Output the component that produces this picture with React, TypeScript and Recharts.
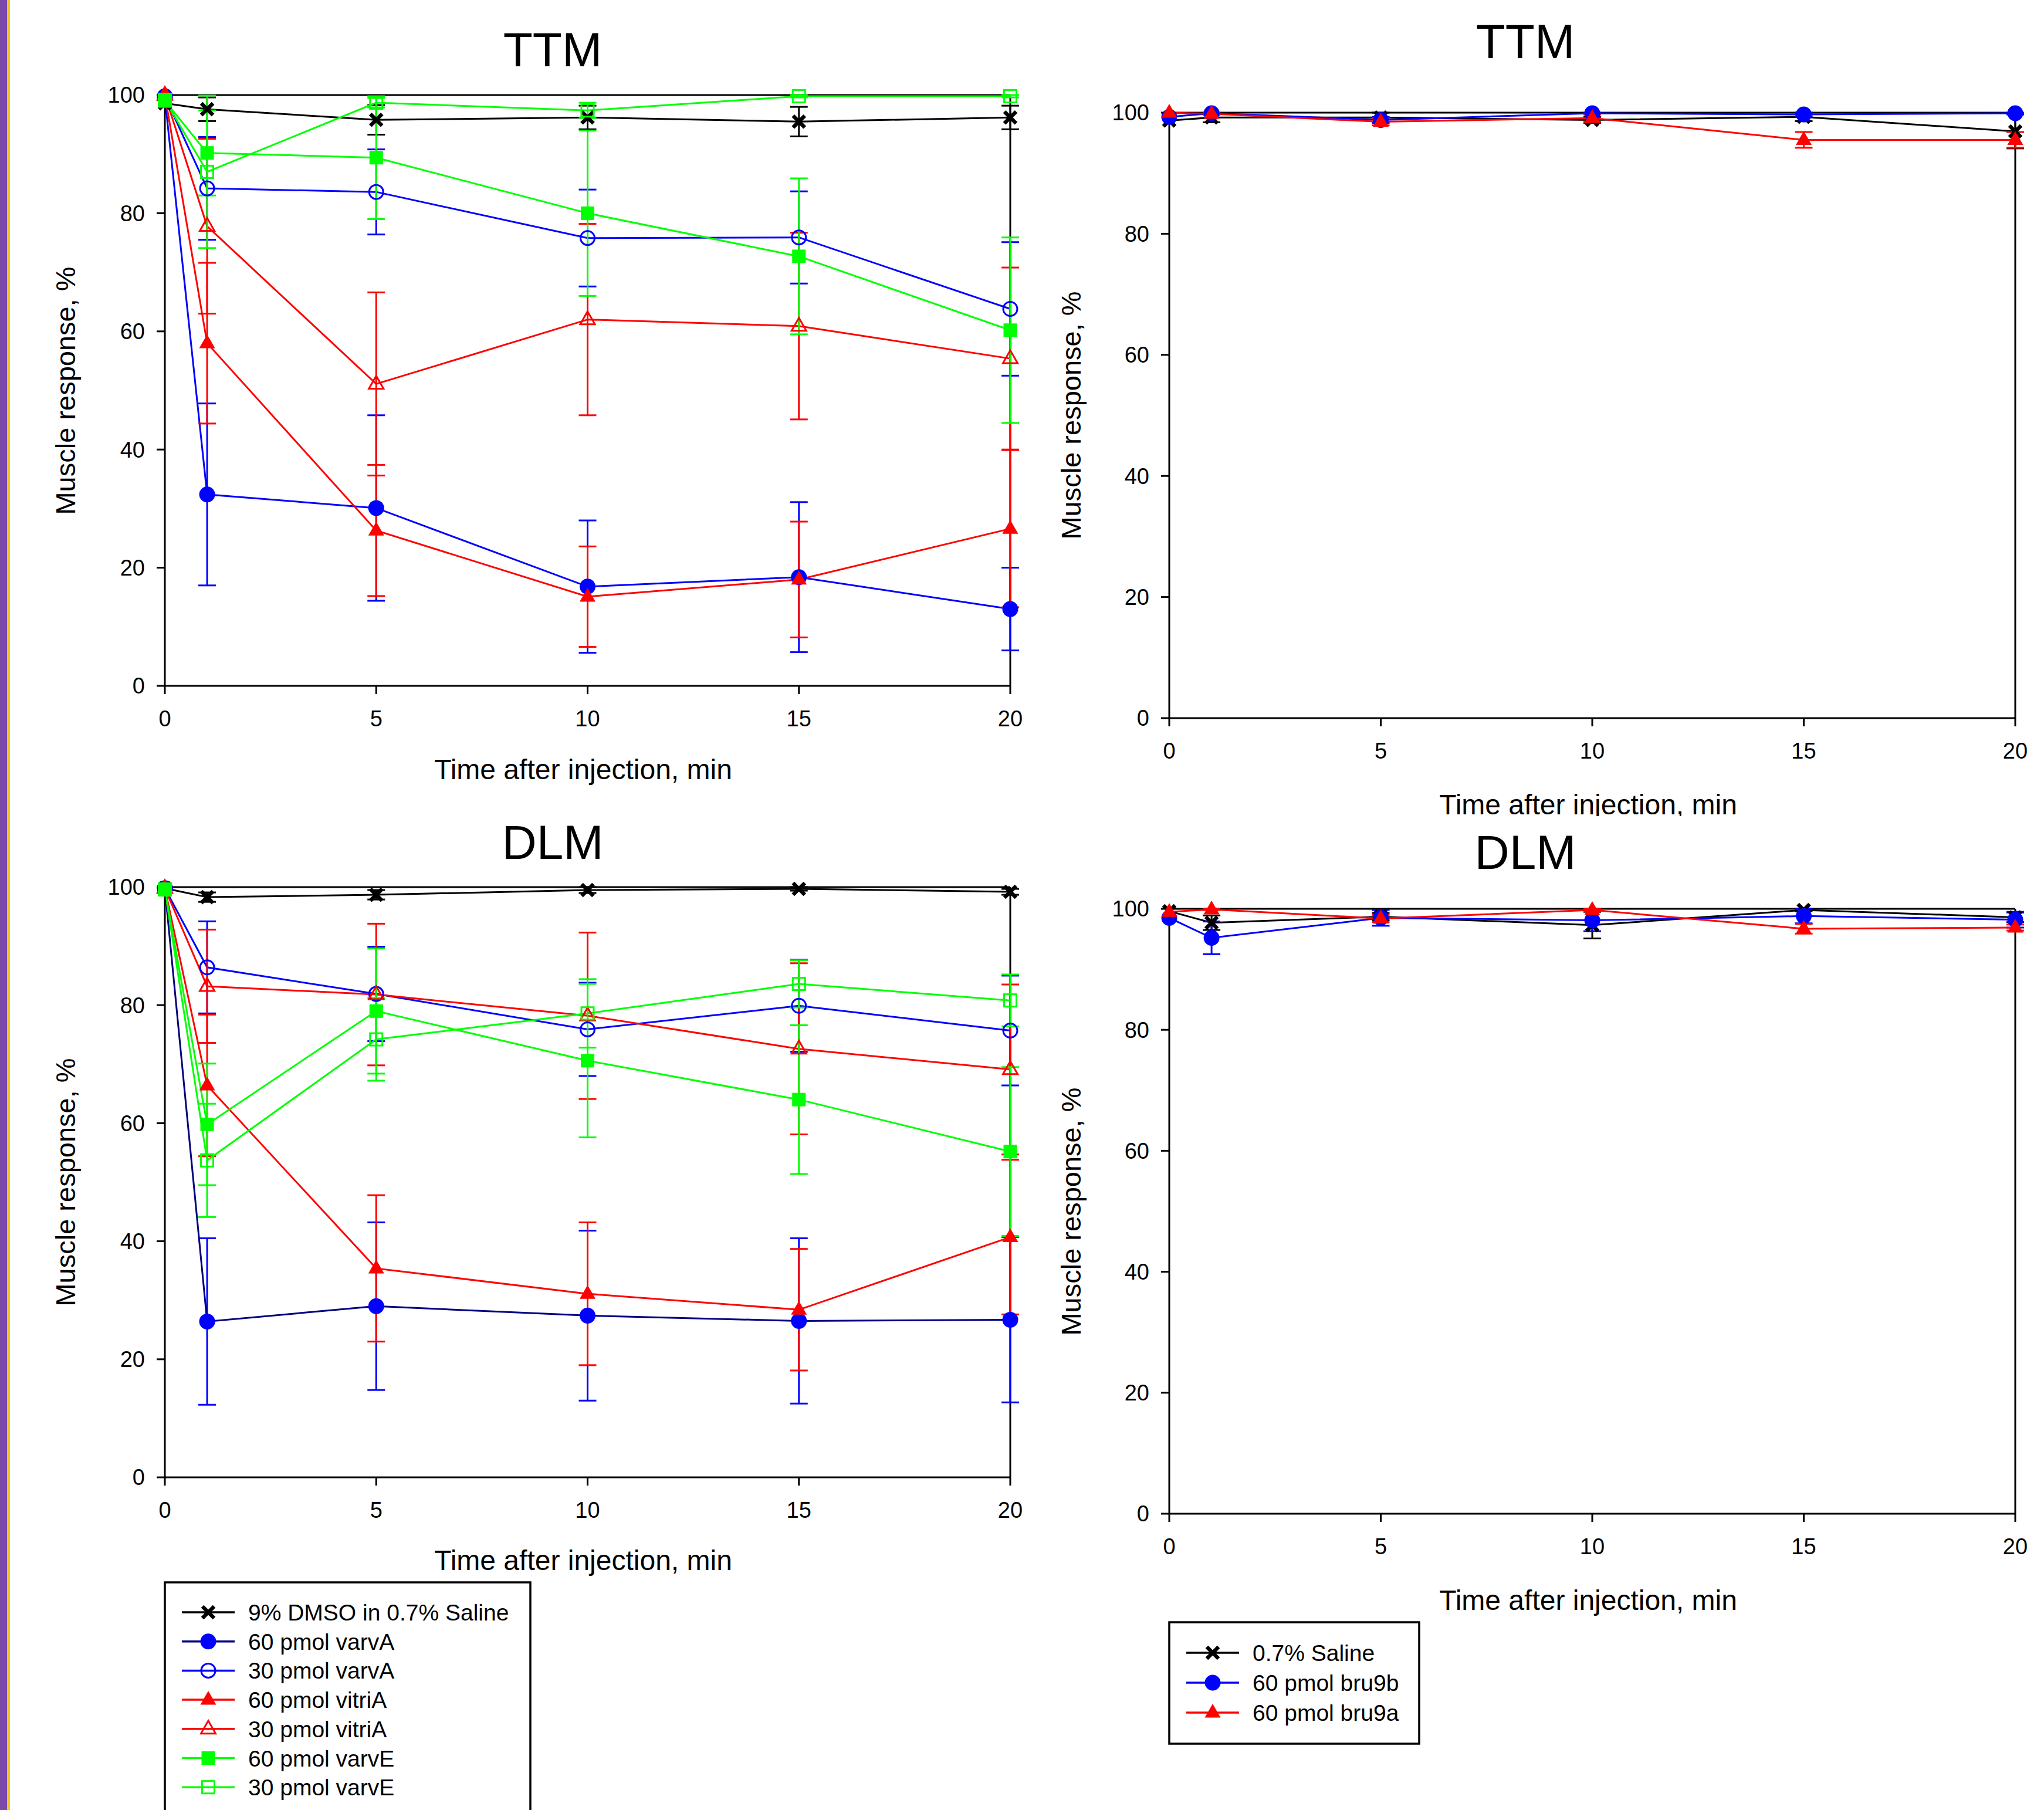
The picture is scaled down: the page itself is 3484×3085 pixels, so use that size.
import React from "react";
import { ErrorBar, Line, LineChart, ReferenceLine, XAxis, YAxis } from "recharts";

const FONT = "Arial, 'Liberation Sans', Helvetica, sans-serif";

const TIMES = [0, 1, 5, 10, 15, 20];
const X_TICKS = [0, 5, 10, 15, 20];
const Y_TICKS = [0, 20, 40, 60, 80, 100];

// TTM, toxins (mean, error)
const ttmDmso = [98.6, 97.6, 95.8, 96.2, 95.5, 96.2];
const ttmDmsoErr = [0, 2, 2.5, 2, 2.5, 2];
const ttmVarvA60 = [99.5, 32.4, 30.1, 16.8, 18.4, 13.0];
const ttmVarvA60Err = [0, 15.4, 15.7, 11.2, 12.7, 7];
const ttmVarvA30 = [99.8, 84.2, 83.6, 75.8, 75.9, 63.8];
const ttmVarvA30Err = [0, 8.7, 7.2, 8.2, 7.8, 11.3];
const ttmVitriA60 = [100, 58.0, 26.3, 15.1, 18.0, 26.6];
const ttmVitriA60Err = [0, 13.6, 11.1, 8.5, 9.8, 13.3];
const ttmVitriA30 = [100, 77.8, 51.1, 62.0, 60.9, 55.4];
const ttmVitriA30Err = [0, 14.8, 15.5, 16.2, 15.8, 15.4];
const ttmVarvE60 = [99.0, 90.2, 89.4, 80.0, 72.7, 60.2];
const ttmVarvE60Err = [0, 7.2, 10.4, 14, 13.2, 15.7];
const ttmVarvE30 = [99.2, 87.0, 98.7, 97.4, 99.8, 99.8];
const ttmVarvE30Err = [0, 12.9, 0.8, 1.3, 0.2, 0.2];

// DLM, toxins
const dlmDmso = [99.8, 98.3, 98.7, 99.5, 99.7, 99.2];
const dlmDmsoErr = [0, 0.8, 0.8, 0.5, 0.3, 0.5];
const dlmVarvA60 = [99.8, 26.4, 29.0, 27.4, 26.5, 26.7];
const dlmVarvA60Err = [0, 14.1, 14.2, 14.4, 14, 14];
const dlmVarvA30 = [99.8, 86.4, 81.9, 75.9, 79.9, 75.7];
const dlmVarvA30Err = [0, 7.8, 8, 7.9, 7.8, 9.3];
const dlmVitriA60 = [99.8, 66.4, 35.4, 31.1, 28.4, 40.7];
const dlmVitriA60Err = [0, 12, 12.4, 12.1, 10.3, 13.1];
const dlmVitriA30 = [99.8, 83.2, 81.8, 78.2, 72.6, 69.1];
const dlmVitriA30Err = [0, 9.6, 12, 14.1, 14.5, 14.4];
const dlmVarvE60 = [99.6, 59.8, 79.0, 70.6, 64.0, 55.2];
const dlmVarvE60Err = [0, 10.3, 10.6, 13, 12.6, 14.3];
const dlmVarvE30 = [99.6, 53.7, 74.2, 78.6, 83.6, 80.8];
const dlmVarvE30Err = [0, 9.6, 7, 5.8, 4, 4.4];

// TTM, bru9
const ttmSaline = [98.7, 99.2, 99.2, 98.8, 99.3, 96.9];
const ttmSalineErr = [0, 0.8, 0.8, 0.5, 0.7, 2.8];
const ttmBru9b = [99.3, 99.9, 98.8, 99.9, 99.7, 99.9];
const ttmBru9bErr = [0, 0.1, 0.5, 0.1, 0.3, 0.1];
const ttmBru9a = [100, 99.8, 98.5, 99.1, 95.5, 95.5];
const ttmBru9aErr = [0, 0.2, 0.6, 0.6, 1.3, 1.3];

// DLM, bru9
const dlmSaline = [99.6, 97.7, 98.7, 97.3, 99.8, 98.6];
const dlmSalineErr = [0, 1.2, 0.6, 2.2, 0.2, 0.8];
const dlmBru9b = [98.5, 95.2, 98.5, 98.1, 98.8, 98.2];
const dlmBru9bErr = [0, 2.7, 1.3, 1.8, 1.2, 1.3];
const dlmBru9a = [99.5, 99.9, 98.4, 99.8, 96.7, 96.9];
const dlmBru9aErr = [0, 0.1, 0.6, 0.2, 0.8, 0.5];

const TOXIN_NAMES = [
  "9% DMSO in 0.7% Saline",
  "60 pmol varvA",
  "30 pmol varvA",
  "60 pmol vitriA",
  "30 pmol vitriA",
  "60 pmol varvE",
  "30 pmol varvE",
];
const BRU_NAMES = ["0.7% Saline", "60 pmol bru9b", "60 pmol bru9a"];

type Kind = "cross" | "dot" | "circle" | "tri" | "triOpen" | "square" | "squareOpen";
type Series = {
  key: string;
  name: string;
  color: string;
  line: string;
  kind: Kind;
  values: number[];
  errors: number[];
};

const TOXIN_STYLE: { color: string; line: string; kind: Kind }[] = [
  { color: "#000000", line: "#000000", kind: "cross" },
  { color: "#0000ff", line: "#0000ff", kind: "dot" },
  { color: "#0000ff", line: "#0000ff", kind: "circle" },
  { color: "#ff0000", line: "#ff0000", kind: "tri" },
  { color: "#ff0000", line: "#ff0000", kind: "triOpen" },
  { color: "#00ff00", line: "#00ff00", kind: "square" },
  { color: "#00ff00", line: "#00ff00", kind: "squareOpen" },
];
const BRU_STYLE: { color: string; line: string; kind: Kind }[] = [
  { color: "#000000", line: "#000000", kind: "cross" },
  { color: "#0000ff", line: "#0000ff", kind: "dot" },
  { color: "#ff0000", line: "#ff0000", kind: "tri" },
];

function build(
  names: string[],
  styles: typeof TOXIN_STYLE,
  vals: number[][],
  errs: number[][],
  navyFirstDot = false,
): Series[] {
  return names.map((name, i) => ({
    key: "s" + i,
    name,
    ...styles[i],
    line: navyFirstDot && i === 1 ? "#000080" : styles[i].line,
    values: vals[i],
    errors: errs[i],
  }));
}

const ttmToxins = build(
  TOXIN_NAMES,
  TOXIN_STYLE,
  [ttmDmso, ttmVarvA60, ttmVarvA30, ttmVitriA60, ttmVitriA30, ttmVarvE60, ttmVarvE30],
  [ttmDmsoErr, ttmVarvA60Err, ttmVarvA30Err, ttmVitriA60Err, ttmVitriA30Err, ttmVarvE60Err, ttmVarvE30Err],
);
const dlmToxins = build(
  TOXIN_NAMES,
  TOXIN_STYLE,
  [dlmDmso, dlmVarvA60, dlmVarvA30, dlmVitriA60, dlmVitriA30, dlmVarvE60, dlmVarvE30],
  [dlmDmsoErr, dlmVarvA60Err, dlmVarvA30Err, dlmVitriA60Err, dlmVitriA30Err, dlmVarvE60Err, dlmVarvE30Err],
  true,
);
const ttmBru = build(BRU_NAMES, BRU_STYLE, [ttmSaline, ttmBru9b, ttmBru9a], [ttmSalineErr, ttmBru9bErr, ttmBru9aErr]);
const dlmBru = build(BRU_NAMES, BRU_STYLE, [dlmSaline, dlmBru9b, dlmBru9a], [dlmSalineErr, dlmBru9bErr, dlmBru9aErr]);

function toRows(series: Series[]) {
  return TIMES.map((t, i) => {
    const row: Record<string, number> = { t };
    series.forEach((s) => {
      row[s.key] = s.values[i];
      row[s.key + "Err"] = s.errors[i];
    });
    return row;
  });
}

function Mark({ kind, cx, cy, color }: { kind: Kind; cx: number; cy: number; color: string }) {
  switch (kind) {
    case "cross":
      return (
        <g stroke={color} strokeWidth={6.5}>
          <line x1={cx - 10} y1={cy - 10} x2={cx + 10} y2={cy + 10} />
          <line x1={cx - 10} y1={cy + 10} x2={cx + 10} y2={cy - 10} />
        </g>
      );
    case "dot":
      return <circle cx={cx} cy={cy} r={13.5} fill={color} />;
    case "circle":
      return <circle cx={cx} cy={cy} r={12} fill="none" stroke={color} strokeWidth={3} />;
    case "tri":
      return <polygon points={`${cx},${cy - 15} ${cx + 13.5},${cy + 8.5} ${cx - 13.5},${cy + 8.5}`} fill={color} />;
    case "triOpen":
      return (
        <polygon
          points={`${cx},${cy - 14} ${cx + 12.5},${cy + 8} ${cx - 12.5},${cy + 8}`}
          fill="none"
          stroke={color}
          strokeWidth={3}
        />
      );
    case "square":
      return <rect x={cx - 11.5} y={cy - 11.5} width={23} height={23} fill={color} />;
    default:
      return <rect x={cx - 10.5} y={cy - 10.5} width={21} height={21} fill="none" stroke={color} strokeWidth={3} />;
  }
}

const ML = 220;
const MT = 60;
const MR = 60;
const MB = 110;

function Panel({ series, x0, x1, y0, y1 }: { series: Series[]; x0: number; x1: number; y0: number; y1: number }) {
  const pw = x1 - x0;
  const ph = y1 - y0;
  const axisStyle = { stroke: "#000", strokeWidth: 3 };
  return (
    <div style={{ position: "absolute", left: x0 - ML, top: y0 - MT }}>
      <LineChart
        width={pw + ML + MR}
        height={ph + MT + MB}
        data={toRows(series)}
        margin={{ top: MT, right: MR, left: 0, bottom: 0 }}
      >
        <XAxis
          type="number"
          dataKey="t"
          domain={[0, 20]}
          ticks={X_TICKS}
          interval={0}
          height={MB}
          tickSize={14}
          tickMargin={28}
          axisLine={axisStyle}
          tickLine={axisStyle}
          tick={{ fill: "#000", fontSize: 38, fontFamily: FONT }}
        />
        <YAxis
          type="number"
          domain={[0, 100]}
          ticks={Y_TICKS}
          interval={0}
          width={ML}
          tickSize={14}
          tickMargin={20}
          axisLine={axisStyle}
          tickLine={axisStyle}
          tick={{ fill: "#000", fontSize: 38, fontFamily: FONT }}
        />
        <ReferenceLine y={100} stroke="#000" strokeWidth={3} />
        <ReferenceLine x={20} stroke="#000" strokeWidth={3} />
        {series.map((s) => (
          <Line
            key={s.key}
            type="linear"
            dataKey={s.key}
            name={s.name}
            stroke={s.line}
            strokeWidth={3}
            activeDot={false}
            isAnimationActive={false}
            dot={(p: any) => <Mark key={`${s.key}-${p.index}`} kind={s.kind} cx={p.cx} cy={p.cy} color={s.color} />}
          >
            <ErrorBar
              dataKey={s.key + "Err"}
              direction="y"
              width={15}
              stroke={s.color}
              strokeWidth={3}
              isAnimationActive={false}
            />
          </Line>
        ))}
      </LineChart>
    </div>
  );
}

function LegendRows({
  series,
  lineX0,
  lineX1,
  textX,
  rowY0,
  step,
}: {
  series: Series[];
  lineX0: number;
  lineX1: number;
  textX: number;
  rowY0: number;
  step: number;
}) {
  return (
    <g>
      {series.map((s, i) => {
        const y = rowY0 + i * step;
        const mx = (lineX0 + lineX1) / 2;
        return (
          <g key={s.key}>
            <line x1={lineX0} y1={y} x2={lineX1} y2={y} stroke={s.line} strokeWidth={3.5} />
            <Mark kind={s.kind} cx={mx} cy={y} color={s.color} />
            <text x={textX} y={y + 14} fontSize={39} fontFamily={FONT} fill="#000">
              {s.name}
            </text>
          </g>
        );
      })}
    </g>
  );
}

const XLABEL = "Time after injection, min";
const YLABEL = "Muscle response, %";

export default function App() {
  const textCommon = { fontFamily: FONT, fill: "#000" };
  return (
    <div
      style={{
        position: "absolute",
        left: 0,
        top: 0,
        width: 3484,
        height: 3085,
        overflow: "hidden",
        background: "#fff",
        fontFamily: FONT,
      }}
    >
      <svg width={3484} height={3085} style={{ position: "absolute", left: 0, top: 0 }}>
        <rect x={0} y={0} width={12} height={3085} fill="#7b4aab" />
        <rect x={12} y={0} width={5} height={3085} fill="#f5c518" />
        <defs>
          <clipPath id="clipTR">
            <rect x={1900} y={1300} width={1400} height={91} />
          </clipPath>
        </defs>

        {/* titles */}
        <text x={942} y={113} fontSize={82} textAnchor="middle" {...textCommon}>TTM</text>
        <text x={2600} y={99} fontSize={82} textAnchor="middle" {...textCommon}>TTM</text>
        <text x={942} y={1464} fontSize={82} textAnchor="middle" {...textCommon}>DLM</text>
        <text x={2600} y={1481} fontSize={82} textAnchor="middle" {...textCommon}>DLM</text>

        {/* x labels */}
        <text x={994} y={1328} fontSize={48} textAnchor="middle" {...textCommon}>{XLABEL}</text>
        <text x={2707} y={1388} fontSize={48} textAnchor="middle" clipPath="url(#clipTR)" {...textCommon}>{XLABEL}</text>
        <text x={994} y={2676} fontSize={48} textAnchor="middle" {...textCommon}>{XLABEL}</text>
        <text x={2707} y={2744} fontSize={48} textAnchor="middle" {...textCommon}>{XLABEL}</text>

        {/* y labels */}
        <text x={128} y={666} fontSize={47} textAnchor="middle" transform="rotate(-90 128 666)" {...textCommon}>{YLABEL}</text>
        <text x={1842} y={708} fontSize={47} textAnchor="middle" transform="rotate(-90 1842 708)" {...textCommon}>{YLABEL}</text>
        <text x={128} y={2015} fontSize={47} textAnchor="middle" transform="rotate(-90 128 2015)" {...textCommon}>{YLABEL}</text>
        <text x={1842} y={2065} fontSize={47} textAnchor="middle" transform="rotate(-90 1842 2065)" {...textCommon}>{YLABEL}</text>

        {/* legends */}
        <rect x={281} y={2697} width={623} height={440} fill="none" stroke="#000" strokeWidth={3.5} />
        <LegendRows series={dlmToxins} lineX0={310} lineX1={400} textX={423} rowY0={2748} step={49.7} />
        <rect x={1993} y={2765} width={426} height={207} fill="none" stroke="#000" strokeWidth={3.5} />
        <LegendRows series={dlmBru} lineX0={2022} lineX1={2112} textX={2135} rowY0={2817} step={51} />
      </svg>

      <Panel series={ttmToxins} x0={281} x1={1722} y0={162} y1={1169} />
      <Panel series={ttmBru} x0={1993} x1={3435} y0={192} y1={1224} />
      <Panel series={dlmToxins} x0={281} x1={1722} y0={1512} y1={2518} />
      <Panel series={dlmBru} x0={1993} x1={3435} y0={1549} y1={2580} />
    </div>
  );
}
